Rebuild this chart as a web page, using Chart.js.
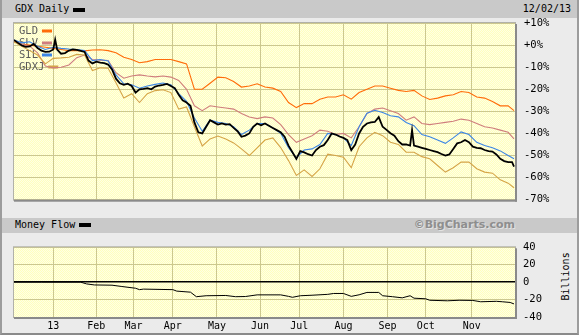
<!DOCTYPE html>
<html>
<head>
<meta charset="utf-8">
<script src="https://cdn.jsdelivr.net/npm/chart.js@4.4.0/dist/chart.umd.min.js"></script>
<style>
  body { margin: 0; }
  #wrap { position: absolute; left: 0; top: 0; width: 579px; height: 335px; background: #ebebeb;
          box-sizing: border-box; border-left: 2px solid #9c9c9c; border-right: 2px solid #9c9c9c; border-bottom: 2px solid #8a8a8a; overflow: hidden; }
  .bar { position: absolute; left: 0; right: 0; background: #c9c9c9; }
  .txt { position: absolute; font: 10px "DejaVu Sans Mono", monospace; color: #000; white-space: nowrap; }
  .sw { position: absolute; background: #000; width: 12px; height: 4px; }
  canvas { position: absolute; left: -2px; }
</style>
</head>
<body>
<div id="wrap">
  <div class="bar" style="top:0;height:18px;"></div>
  <div class="txt" style="left:13px;top:3px;">GDX Daily</div>
  <div class="sw" style="left:71px;top:8px;"></div>
  <div class="txt" style="right:6px;top:3px;">12/02/13</div>

  <div class="bar" style="top:218px;height:15px;"></div>
  <div class="txt" style="left:13px;top:219px;">Money Flow</div>
  <div class="sw" style="left:77px;top:223px;"></div>
  <div class="txt" style="right:62px;top:218px;font:bold 11px 'DejaVu Sans',sans-serif;color:#8e8e8e;text-shadow:1px 1px 0 #e2e2e2;">©BigCharts.com</div>

  <div class="txt" style="left:539px;top:271px;width:48px;text-align:center;transform:rotate(-90deg);">Billions</div>

  <canvas id="mainChart" width="579" height="215" style="top:0;"></canvas>
  <canvas id="flowChart" width="579" height="102" style="top:233px;"></canvas>
</div>

<script>
// trading-day index since 3 Dec 2012
const monthTicks = [20, 42, 61, 81, 103.5, 125.5, 145.5, 168, 190.5, 210, 233.5];
const monthLabels = ['13', 'Feb', 'Mar', 'Apr', 'May', 'Jun', 'Jul', 'Aug', 'Sep', 'Oct', 'Nov'];

const pctTicks = [10, 0, -10, -20, -30, -40, -50, -60, -70];

// GDX daily, % change
const gdxDays = [0,2,4,6,8,10,12,14,16,18,20,21,22,24,26,28,30,32,34,36,38,40,42,44,46,48,50,52,54,56,58,60,
  62,64,66,68,70,72,74,76,78,80,82,84,86,88,90,92,94,96,98,100,102,104,106,108,110,112,114,116,118,120,
  122,124,126,128,130,132,134,136,138,140,142,144,146,148,150,152,154,156,158,160,162,164,166,168,170,
  172,174,176,178,180,182,184,186,188,190,192,194,196,198,200,202,203,204,206,208,210,212,214,216,218,
  220,222,224,226,228,230,232,234,236,238,240,242,244,246,248,250,252,254,255];
const gdxPct = [2.3,1.0,-0.2,-0.8,-0.6,0.5,-1.3,-2.5,-3.1,-3.0,-2.0,2.5,-2.0,-3.9,-3.6,-2.5,-2.0,-2.2,-2.6,-3.1,
  -7.0,-8.3,-7.5,-7.9,-8.2,-8.8,-11,-15.2,-17.3,-18.0,-17.5,-18.5,
  -21.5,-20.0,-19.8,-19.5,-20.0,-18.8,-18.3,-18.0,-17.6,-18.5,-19.5,-22.5,-25,-26,-27.5,-35,-39.5,-40,-37,-34,
  -35,-36,-35.5,-36,-35.8,-37.5,-39,-41.5,-41,-40,
  -37,-35.5,-36.3,-35.5,-36.5,-37.5,-38.5,-39.5,-41.5,-45.5,-48.5,-51.5,-48,-48.6,-49.4,-50,-47.5,-46,-45.3,-43,-40,-40.5,-41.4,-42,-43,
  -47.5,-45,-40,-37,-35.5,-35,-34.8,-32.6,-37,-38.4,-39.9,-41,-43.5,-45,-45,-45.5,-38.5,-45.5,-46,-46.5,-47,-47.5,-48,-48.5,-49.3,
  -50,-49.5,-47,-44.5,-44,-43,-44,-46,-46.5,-46.7,-47.5,-48,-48.2,-49.5,-51.5,-52.5,-53,-53,-55];

// comparison series, every 4 trading days
const cmpDays = [0,4,8,12,16,20,24,28,32,36,40,44,48,52,56,60,64,68,72,76,80,84,88,92,96,100,104,108,112,116,
  120,124,128,132,136,140,144,148,152,156,160,164,168,172,176,180,184,188,192,196,200,204,208,212,216,220,224,
  228,232,236,240,244,248,252,255];
const gldPct = [1.5,0.5,0,-0.5,-1,-1.5,-2,-2.5,-2.5,-2.6,-2.2,-2.1,-2.5,-3.5,-5.5,-6.5,-8,-7.5,-6.5,-6.5,-6.5,-7.5,-8.5,
  -20,-20,-17.3,-14.5,-14.8,-16.5,-19,-18.5,-17.5,-19,-19.5,-21,-26,-28.3,-26.5,-26.5,-24.5,-23.5,-23.5,-22.5,-24.5,
  -21.5,-20,-18.5,-18.5,-19.5,-20.5,-21,-20.5,-23,-24.6,-24,-23,-22.5,-21,-21.5,-23.5,-24,-25.5,-27.5,-27.5,-29.7];
const slvPct = [1.8,0.5,-0.5,-3.5,-9.5,-10.3,-10,-9,-5.7,-4.5,-6.5,-6.8,-7,-12.5,-15,-14,-13.5,-14,-14.4,-14,-14.5,-16,-20,
  -27.5,-29.7,-27.5,-28,-28.5,-29,-31,-32.6,-33.3,-32.5,-33,-36,-40.5,-44,-42.5,-41,-38.5,-39,-40.5,-40,-42,
  -37,-31,-29,-28.5,-29.7,-31,-34,-32.5,-35.5,-36,-35.5,-35,-34.5,-33.5,-34,-35.5,-37,-37.5,-38.5,-39.5,-42.5];
const silPct = [2.3,1.0,1.5,-0.5,-2.0,-1.0,-1.5,-1.8,-2.0,-2.5,-7.0,-6.5,-7.2,-13.5,-17.5,-18,-19.5,-18.5,-17.8,-17.2,-18.0,-22,-25.5,
  -33,-39,-34,-35,-35.5,-37,-40.5,-38.5,-35.5,-35.5,-37.5,-39.9,-46.5,-51,-47.5,-47,-45,-40,-40.5,-42,-45.5,
  -37,-30.8,-29.5,-30.5,-32,-32.5,-35,-36.5,-40.5,-41.5,-43,-44.5,-42,-39.3,-40.5,-44,-45.5,-46.5,-47.9,-50,-51.5];
const gdxjPct = [1.5,-0.5,-2.5,-4.5,-8.5,-6,-5.8,-5.5,-4.2,-4.5,-11.5,-10.3,-10.5,-17,-24,-22,-26,-22,-20.6,-20.2,-21.5,-29,-28,
  -37,-45.7,-42.5,-41.2,-42.5,-44.3,-47,-50,-46.5,-43,-42,-46.4,-52.3,-59,-56.5,-59.5,-56,-49.4,-50,-50.8,-55.5,
  -46,-42,-39.5,-41,-44,-45,-48.5,-48.5,-50.5,-51.5,-54.5,-57.5,-55.5,-53,-53,-56,-57.5,-58,-61,-62.5,-64.6];

// money flow, billions
const flowDays = [0,14,34,37,41,50,55,62,64,66,81,83,90,93,98,108,113,118,124,136,140,142,146,152,160,163,168,
  172,176,180,186,188,193,198,202,204,210,212,221,227,234,238,246,249,253,255];
const flowVals = [0,0,0,-2,-3.2,-3.5,-5,-7,-8.6,-8,-8.6,-10.3,-11.5,-16.7,-15.6,-15.3,-16.7,-16.5,-14.6,-14.6,-16.3,-17.4,
  -15.6,-15,-14,-13,-13,-16.3,-14.5,-11.8,-11.8,-15.6,-16.7,-18,-15.6,-18.4,-19.1,-20.8,-21.4,-20.8,-21,-22.5,-22,-22.5,-23.3,-25];

const flowTicks = [40, 20, 0, -20, -40];

const seriesNames = ['GLD', 'SLV', 'SIL', 'GDXJ'];
const seriesColors = ['#ff6c0a', '#cf7d7d', '#3c86e6', '#d5a447'];

const gridColor = '#ccc88f';
const monoFont = { family: '"DejaVu Sans Mono", monospace', size: 10.5 };

function pts(xs, ys) { return xs.map((x, i) => ({ x: x, y: ys[i] })); }

// yellow dotted plot background
const pat = document.createElement('canvas');
pat.width = 2; pat.height = 2;
const pc = pat.getContext('2d');
pc.fillStyle = '#ffffbe'; pc.fillRect(0, 0, 2, 2);
pc.fillStyle = '#ffffe4'; pc.fillRect(0, 0, 1, 1); pc.fillRect(1, 1, 1, 1);

const plotFrame = {
  id: 'plotFrame',
  beforeDraw(chart) {
    const a = chart.chartArea, ctx = chart.ctx;
    ctx.save();
    ctx.fillStyle = ctx.createPattern(pat, 'repeat');
    ctx.fillRect(a.left, a.top, a.right - a.left, a.bottom - a.top);
    ctx.restore();
  },
  afterDraw(chart) {
    const a = chart.chartArea, ctx = chart.ctx;
    ctx.save();
    ctx.strokeStyle = '#b2b2a8';
    ctx.lineWidth = 1;
    ctx.strokeRect(a.left - 0.5, a.top - 0.5, a.right - a.left + 1, a.bottom - a.top + 1);
    ctx.fillStyle = '#8a8a8a';
    ctx.fillRect(a.left, a.bottom, a.right - a.left + 2, 2);
    ctx.fillRect(a.right, a.top + 1, 2, a.bottom - a.top + 1);
    ctx.restore();
  }
};

const innerLegend = {
  id: 'innerLegend',
  beforeDatasetsDraw(chart) {
    const a = chart.chartArea, ctx = chart.ctx;
    ctx.save();
    ctx.font = '10.5px "DejaVu Sans Mono", monospace';
    ctx.textBaseline = 'middle';
    seriesNames.forEach((name, i) => {
      const y = a.top + 8 + i * 12;
      ctx.fillStyle = '#5a5a5a';
      ctx.fillText(name, a.left + 5, y);
      const w = ctx.measureText(name).width;
      ctx.fillStyle = seriesColors[i];
      ctx.fillRect(a.left + 5 + w + 4, y - 1.5, 10, 3);
    });
    ctx.restore();
  }
};

function monthAxis(showLabels) {
  return {
    type: 'linear', min: 0, max: 255.5,
    afterBuildTicks: s => { s.ticks = monthTicks.map(v => ({ value: v })); },
    afterFit: s => { s.height = showLabels ? 16 : 0; },
    grid: { color: gridColor, drawTicks: false },
    border: { display: false },
    ticks: {
      display: showLabels, autoSkip: false, maxRotation: 0, padding: 3, color: '#000',
      font: { family: '"DejaVu Sans Mono", monospace', size: 10 },
      callback: (v, i) => monthLabels[i]
    }
  };
}

const cmpData = [gldPct, slvPct, silPct, gdxjPct];

new Chart(document.getElementById('mainChart'), {
  type: 'line',
  data: {
    datasets: [
      { label: 'GDX', data: pts(gdxDays, gdxPct), borderColor: '#000', borderWidth: 1.8 }
    ].concat([2, 3, 1, 0].map(i => ({
      label: seriesNames[i], data: pts(cmpDays, cmpData[i]), borderColor: seriesColors[i], borderWidth: 1.1
    })))
  },
  options: {
    responsive: false, animation: false,
    layout: { padding: { left: 14, top: 23, right: 0, bottom: 7.5 } },
    elements: { point: { radius: 0 }, line: { tension: 0 } },
    plugins: { legend: { display: false }, tooltip: { enabled: false } },
    scales: {
      x: monthAxis(false),
      y: {
        position: 'right', min: -70, max: 10,
        afterBuildTicks: s => { s.ticks = pctTicks.map(v => ({ value: v })); },
        afterFit: s => { s.width = 64; },
        grid: { color: gridColor, drawTicks: false },
        border: { display: false },
        ticks: { padding: 9, color: '#000', font: monoFont, callback: v => (v >= 0 ? '+' : '') + v + '%' }
      }
    }
  },
  plugins: [plotFrame, innerLegend]
});

new Chart(document.getElementById('flowChart'), {
  type: 'line',
  data: {
    datasets: [{ label: 'Money Flow', data: pts(flowDays, flowVals), borderColor: '#000', borderWidth: 1 }]
  },
  options: {
    responsive: false, animation: false,
    layout: { padding: { left: 14, top: 6, right: 0, bottom: 2 } },
    elements: { point: { radius: 0 }, line: { tension: 0 } },
    plugins: { legend: { display: false }, tooltip: { enabled: false } },
    scales: {
      x: monthAxis(true),
      y: {
        position: 'right', min: -40, max: 40,
        afterBuildTicks: s => { s.ticks = flowTicks.map(v => ({ value: v })); },
        afterFit: s => { s.width = 64; },
        grid: {
          drawTicks: false,
          color: c => (c.tick && c.tick.value === 0) ? '#000' : gridColor,
          lineWidth: c => (c.tick && c.tick.value === 0) ? 1.5 : 1
        },
        border: { display: false },
        ticks: { padding: 8, color: '#000', font: monoFont }
      }
    }
  },
  plugins: [plotFrame]
});
</script>
</body>
</html>
